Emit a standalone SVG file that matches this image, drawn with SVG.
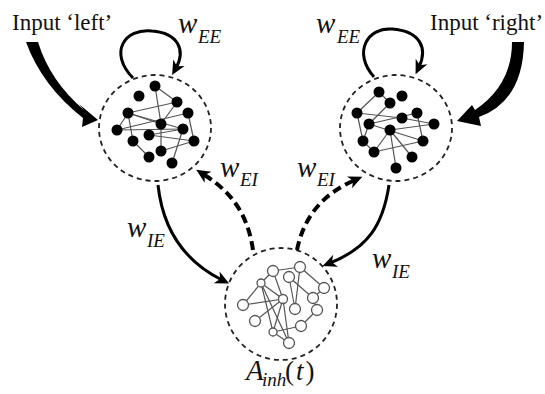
<svg xmlns="http://www.w3.org/2000/svg" width="545" height="394" viewBox="0 0 545 394">
<defs>
<style>
.pop{fill:none;stroke:#222;stroke-width:1.8;stroke-dasharray:5 4}
.edge{stroke:#555;stroke-width:1.2;fill:none}
.exc circle{fill:#000}
.inh circle{fill:#fff;stroke:#555;stroke-width:1.3}
.con{fill:none;stroke:#000;stroke-width:3}
.dash{fill:none;stroke:#000;stroke-width:4;stroke-dasharray:9 5}
.lbl{font-family:"Liberation Serif","Times New Roman",serif;fill:#111}
.w{font-family:"Liberation Serif","Times New Roman",serif;font-style:italic;font-size:29px;fill:#111}
.sub{font-family:"Liberation Serif","Times New Roman",serif;font-style:italic;font-size:19px;fill:#111}
</style>
<marker id="ah" viewBox="-15 -7 16 14" markerWidth="16" markerHeight="14" markerUnits="userSpaceOnUse" refX="-8" refY="0" orient="auto">
<path d="M0,0 L-14,-6.5 L-10,0 L-14,6.5 Z" fill="#000"/>
</marker>
</defs>

<g id="input-left">
<path d="M26,42 L38,42 Q50,81 84,110 L79,104 L98,120 L82,127 L83,118 Q42,86 26,42 Z" fill="#000"/>
<text class="lbl" x="12" y="30" font-size="23">Input ‘left’</text>
</g>

<g id="input-right">
<path d="M512,42 L524,42 Q523,101 479,117 L481,126 L457,121 L472,105 L475,110 Q512,85 512,42 Z" fill="#000"/>
<text class="lbl" x="430" y="30" font-size="23">Input ‘right’</text>
</g>

<g id="pop-left">
<ellipse class="pop" cx="155" cy="128" rx="56" ry="53"/>
<g class="edge">
<line x1="155" y1="86" x2="177" y2="102"/>
<line x1="155" y1="86" x2="161" y2="124"/>
<line x1="177" y1="102" x2="128" y2="113"/>
<line x1="128" y1="113" x2="161" y2="124"/>
<line x1="128" y1="113" x2="117" y2="130"/>
<line x1="128" y1="113" x2="133" y2="141"/>
<line x1="128" y1="113" x2="183" y2="129"/>
<line x1="117" y1="130" x2="188" y2="113"/>
<line x1="177" y1="102" x2="161" y2="124"/>
<line x1="149" y1="135" x2="183" y2="129"/>
<line x1="149" y1="135" x2="194" y2="141"/>
<line x1="133" y1="141" x2="149" y2="157"/>
<line x1="161" y1="124" x2="161" y2="151"/>
<line x1="194" y1="141" x2="161" y2="151"/>
<line x1="183" y1="129" x2="172" y2="163"/>
<line x1="117" y1="130" x2="183" y2="129"/>
<line x1="188" y1="113" x2="194" y2="141"/>
</g>
<g class="exc">
<circle cx="155" cy="86" r="5.5"/><circle cx="139" cy="96" r="5.5"/><circle cx="177" cy="102" r="5.5"/>
<circle cx="128" cy="113" r="5.5"/><circle cx="188" cy="113" r="5.5"/><circle cx="161" cy="124" r="5.5"/>
<circle cx="117" cy="130" r="5.5"/><circle cx="149" cy="135" r="5.5"/><circle cx="183" cy="129" r="5.5"/>
<circle cx="133" cy="141" r="5.5"/><circle cx="194" cy="141" r="5.5"/><circle cx="161" cy="151" r="5.5"/>
<circle cx="149" cy="157" r="5.5"/><circle cx="172" cy="163" r="5.5"/>
</g>
</g>

<g id="pop-right">
<ellipse class="pop" cx="396" cy="128" rx="56" ry="53"/>
<g class="edge">
<line x1="379" y1="92" x2="390" y2="103"/>
<line x1="379" y1="92" x2="357" y2="113"/>
<line x1="357" y1="113" x2="402" y2="118"/>
<line x1="357" y1="113" x2="363" y2="141"/>
<line x1="369" y1="124" x2="390" y2="103"/>
<line x1="369" y1="124" x2="417" y2="113"/>
<line x1="369" y1="124" x2="423" y2="141"/>
<line x1="390" y1="130" x2="434" y2="124"/>
<line x1="390" y1="130" x2="374" y2="152"/>
<line x1="390" y1="130" x2="396" y2="168"/>
<line x1="390" y1="130" x2="412" y2="157"/>
<line x1="374" y1="152" x2="423" y2="141"/>
<line x1="363" y1="141" x2="374" y2="152"/>
<line x1="417" y1="113" x2="423" y2="141"/>
<line x1="402" y1="118" x2="434" y2="124"/>
<line x1="369" y1="124" x2="363" y2="141"/>
</g>
<g class="exc">
<circle cx="379" cy="92" r="5.5"/><circle cx="402" cy="96" r="5.5"/><circle cx="390" cy="103" r="5.5"/>
<circle cx="357" cy="113" r="5.5"/><circle cx="417" cy="113" r="5.5"/><circle cx="402" cy="118" r="5.5"/>
<circle cx="369" cy="124" r="5.5"/><circle cx="390" cy="130" r="5.5"/><circle cx="434" cy="124" r="5.5"/>
<circle cx="363" cy="141" r="5.5"/><circle cx="423" cy="141" r="5.5"/><circle cx="374" cy="152" r="5.5"/>
<circle cx="412" cy="157" r="5.5"/><circle cx="396" cy="168" r="5.5"/>
</g>
</g>

<g id="pop-inh">
<circle class="pop" cx="281" cy="304" r="56"/>
<g class="edge">
<line x1="273" y1="271" x2="300" y2="267"/>
<line x1="273" y1="271" x2="261" y2="283"/>
<line x1="273" y1="271" x2="283" y2="299"/>
<line x1="261" y1="283" x2="243" y2="305"/>
<line x1="261" y1="283" x2="283" y2="299"/>
<line x1="261" y1="283" x2="273" y2="332"/>
<line x1="261" y1="283" x2="289" y2="343"/>
<line x1="243" y1="305" x2="283" y2="299"/>
<line x1="283" y1="299" x2="255" y2="321"/>
<line x1="283" y1="299" x2="273" y2="332"/>
<line x1="283" y1="299" x2="289" y2="343"/>
<line x1="289" y1="277" x2="295" y2="309"/>
<line x1="300" y1="267" x2="295" y2="309"/>
<line x1="300" y1="267" x2="324" y2="288"/>
<line x1="289" y1="277" x2="313" y2="298"/>
<line x1="313" y1="298" x2="317" y2="310"/>
<line x1="317" y1="310" x2="301" y2="326"/>
<line x1="301" y1="326" x2="273" y2="332"/>
<line x1="273" y1="332" x2="289" y2="343"/>
<line x1="324" y1="288" x2="313" y2="298"/>
</g>
<g class="inh">
<circle cx="273" cy="271" r="5.5"/><circle cx="300" cy="267" r="5.5"/><circle cx="289" cy="277" r="5.5"/>
<circle cx="261" cy="283" r="4"/><circle cx="324" cy="288" r="5.5"/><circle cx="283" cy="299" r="4.5"/>
<circle cx="313" cy="298" r="5.5"/><circle cx="243" cy="305" r="5.5"/><circle cx="295" cy="309" r="5.5"/>
<circle cx="317" cy="310" r="5.5"/><circle cx="255" cy="321" r="5.5"/><circle cx="301" cy="326" r="5.5"/>
<circle cx="273" cy="332" r="4"/><circle cx="289" cy="343" r="5.5"/>
</g>
<text class="w" x="246" y="380" font-size="27">A</text>
<text class="sub" x="262" y="386" font-size="16">inh</text>
<text class="lbl" x="285" y="380" font-size="27">(<tspan font-style="italic" dx="2">t</tspan><tspan dx="2">)</tspan></text>
</g>

<g id="connectors">
<path class="con" marker-end="url(#ah)" d="M133,78 C108,52 125,28 152,31 C178,33 186,50 176,68"/>
<path class="con" marker-end="url(#ah)" d="M374,77 C352,52 368,27 392,29 C420,31 428,48 419,67"/>
<path class="con" marker-end="url(#ah)" d="M158,185 C162,222 178,258 222,280"/>
<path class="dash" marker-end="url(#ah)" d="M253,250 C248,215 232,192 203,174"/>
<path class="dash" marker-end="url(#ah)" d="M297,250 C303,220 320,195 355,180"/>
<path class="con" marker-end="url(#ah)" d="M389,185 C383,225 368,248 330,263"/>
</g>

<g id="labels">
<text class="w" x="178" y="33">w</text><text class="sub" x="198" y="43">EE</text>
<text class="w" x="316" y="33">w</text><text class="sub" x="337" y="43">EE</text>
<text class="w" x="220" y="177">w</text><text class="sub" x="240" y="186">EI</text>
<text class="w" x="297" y="177">w</text><text class="sub" x="317" y="186">EI</text>
<text class="w" x="127" y="237">w</text><text class="sub" x="147" y="247">IE</text>
<text class="w" x="372" y="268">w</text><text class="sub" x="392" y="278">IE</text>
</g>
</svg>
